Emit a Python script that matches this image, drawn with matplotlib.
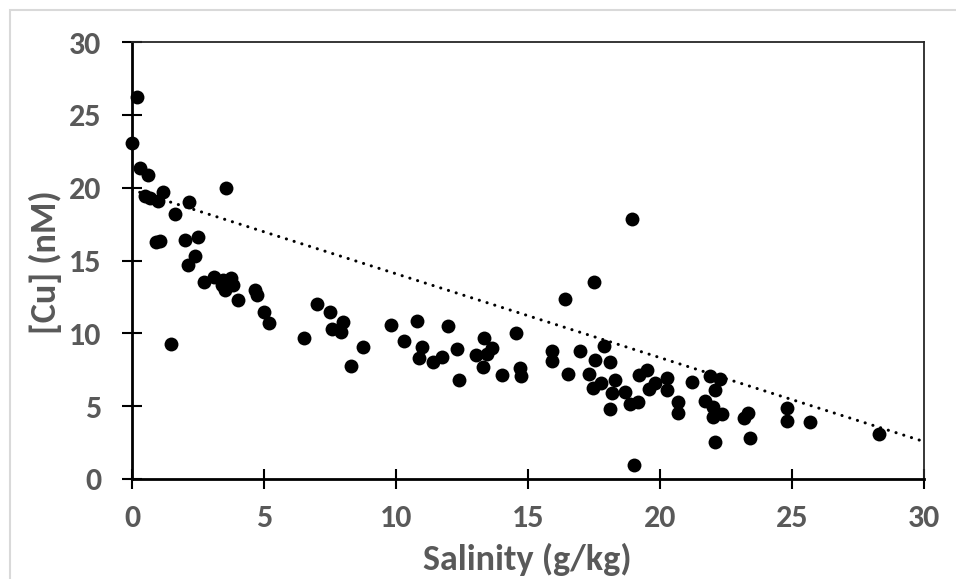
import matplotlib
matplotlib.use("Agg")
import matplotlib.pyplot as plt
import numpy as np
from matplotlib.patches import Rectangle

salinity = [0.0, 0.19, 0.30, 0.61, 0.49, 0.68, 0.98, 1.17, 2.16, 3.56,
            1.63, 0.90, 1.05, 2.0, 2.5, 2.39, 2.12, 2.73, 3.1, 3.45,
            3.75, 3.52, 3.82, 3.4, 4.02, 4.66, 4.74, 5.0, 5.2, 1.48,
            6.52, 7.0, 7.5, 7.58, 8.0, 7.9, 8.3, 8.75, 9.8, 10.3,
            10.8, 10.98, 10.87, 11.4, 11.74, 11.97, 12.31, 12.39, 13.03, 13.33,
            13.64, 13.45, 13.3, 14.0, 14.55, 14.7, 14.73, 15.9, 15.9, 16.4,
            16.52, 16.97, 17.5, 17.3, 17.54, 17.88, 18.1, 17.46, 17.77, 18.3,
            18.1, 18.2, 18.67, 19.0, 18.86, 19.17, 19.2, 19.5, 19.6, 19.8,
            20.25, 20.27, 20.68, 20.68, 18.94, 21.2, 21.9, 22.27, 22.08, 21.7,
            22.0, 22.0, 22.35, 22.08, 23.18, 23.33, 23.4, 24.8, 24.8, 25.7,
            28.3]
copper = [23.1, 26.2, 21.35, 20.9, 19.4, 19.3, 19.1, 19.7, 19.0, 20.0,
          18.2, 16.3, 16.35, 16.4, 16.6, 15.3, 14.7, 13.5, 13.85, 13.65,
          13.8, 12.97, 13.3, 13.3, 12.3, 13.0, 12.6, 11.45, 10.7, 9.27,
          9.68, 12.0, 11.46, 10.3, 10.8, 10.1, 7.76, 9.06, 10.57, 9.47,
          10.84, 9.06, 8.3, 8.03, 8.37, 10.5, 8.92, 6.79, 8.51, 9.68,
          8.99, 8.58, 7.69, 7.14, 10.02, 7.62, 7.07, 8.78, 8.1, 12.35,
          7.21, 8.78, 13.55, 7.21, 8.17, 9.1, 8.05, 6.25, 6.59, 6.79,
          4.8, 5.9, 5.97, 0.96, 5.15, 5.3, 7.14, 7.45, 6.2, 6.59,
          6.93, 6.1, 5.3, 4.53, 17.84, 6.66, 7.07, 6.86, 6.1, 5.35,
          4.94, 4.26, 4.46, 2.54, 4.19, 4.53, 2.81, 4.87, 3.98, 3.91,
          3.09]

# linear trendline as drawn in the reference
trend_intercept = 19.85
trend_slope = -0.576

x_ticks = [0, 5, 10, 15, 20, 25, 30]
y_ticks = [0, 5, 10, 15, 20, 25, 30]
x_label = "Salinity (g/kg)"
y_label = "[Cu] (nM)"

FONT = "Carlito"
TEXT_COLOR = "#595959"
W, H = 956, 579
fig = plt.figure(figsize=(W / 100, H / 100), dpi=100)
fig.patch.set_facecolor("white")
fig.add_artist(Rectangle((10 / W, -0.1), 1.2, 1 - 10 / H + 0.1, transform=fig.transFigure,
                         fill=False, edgecolor="#d9d9d9", linewidth=1.5))

ax = fig.add_axes([132 / W, 1 - 479 / H, (924 - 132) / W, (479 - 42) / H])
ax.set_xlim(0, 30)
ax.set_ylim(0, 30)

ax.scatter(salinity, copper, s=100, color="black", zorder=3, linewidths=0, clip_on=False)

xx = np.array([0.0, 30.0])
ax.plot(xx, trend_intercept + trend_slope * xx, color="black", lw=2.2,
        linestyle=(0, (0.05, 2.6)), dash_capstyle="round", zorder=2)

for s in ["left", "bottom"]:
    ax.spines[s].set_linewidth(2.0)
    ax.spines[s].set_color("black")
for s in ["top", "right"]:
    ax.spines[s].set_linewidth(1.3)
    ax.spines[s].set_color("#262626")

ax.set_xticks(x_ticks)
ax.set_yticks(y_ticks)
ax.set_xticklabels([str(t) for t in x_ticks], family=FONT, fontweight="bold",
                   fontsize=23, color=TEXT_COLOR)
ax.set_yticklabels([str(t) for t in y_ticks], family=FONT, fontweight="bold",
                   fontsize=23, color=TEXT_COLOR)
ax.tick_params(direction="inout", length=14, width=1.5, color="black")
ax.tick_params(axis="x", pad=11)
ax.tick_params(axis="y", pad=15)

fig.text(527 / W, 1 - 570 / H, x_label, ha="center", va="baseline", fontsize=26,
         fontweight="bold", color=TEXT_COLOR, family=FONT)
fig.text(45 / W, 1 - 262 / H, y_label, ha="center", va="center", fontsize=26,
         fontweight="bold", color=TEXT_COLOR, family=FONT, rotation=90)

fig.savefig("out.png", dpi=100)
